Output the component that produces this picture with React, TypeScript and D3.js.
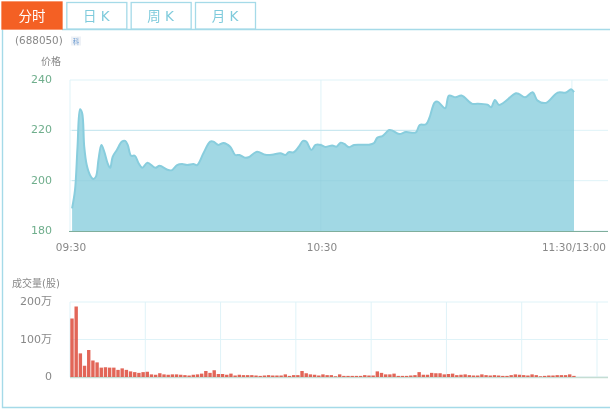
import { useEffect, useRef } from 'react';
import * as d3 from 'd3';

const tabs = ['分时', '日 K', '周 K', '月 K'];
const priceTicks = [180, 200, 220, 240];
const volumeTicks = [0, 100, 200];
const volumeTickLabels = ['0', '100万', '200万'];
const timeLabels = ['09:30', '10:30', '11:30/13:00'];
const priceGridMinutes = [0, 60, 120];
const volumeGridMinutes = [0, 18, 36, 54, 72, 90, 108, 126];

// minutes after 09:30 and the price read at that minute
const priceMinutes = [
  0, 0.7, 1.3, 1.9, 2.4, 2.9, 3.5, 4.3, 5.1, 5.7, 6.3, 7, 7.7, 8.5, 9.1, 9.7, 10.7, 11.9, 12.7, 13.3,
  14.1, 15, 15.9, 16.8, 18, 19.9, 20.9, 23, 23.9, 25.1, 26.3, 27.5, 29, 29.9, 31.4, 33, 33.8, 35, 36.2, 37.8,
  39, 40, 41.4, 42.2, 44.2, 46.2, 47.8, 49.8, 51, 51.8, 53, 54.2, 55.2, 56, 57.2, 58.2, 59.4, 60.6, 62.2, 63.2,
  64.2, 65.1, 66.2, 67.4, 71, 72.2, 73, 74.2, 75.8, 76.6, 78.2, 79.8, 82.2, 83.1, 84.6, 85.4, 86.7, 87.4, 89.2, 90.1,
  91.7, 93.1, 95.7, 96.9, 99.3, 100.2, 101.1, 102.1, 106.1, 106.9, 108.3, 110.1, 111.3, 113.3, 116.1, 118.1, 119.3, 120,
];
const priceValues = [
  189, 196.3, 213.5, 228.4, 226.9, 213.5, 206.2, 202.2, 200.7, 201.6, 208.2, 214.2, 211.5, 206.9, 205.1, 209.5, 212.2, 215.5, 215.8, 214.2,
  209.9, 209.9, 206.9, 205.1, 207.1, 205.1, 205.9, 204.2, 204.2, 206.2, 206.6, 206.2, 206.6, 206.2, 210.9, 215.5, 215.5, 214.2, 215, 213.5,
  210.2, 210.2, 209.1, 209.3, 211.5, 210.3, 210.3, 210.9, 210.2, 211.3, 211.3, 213.5, 215.8, 215.5, 212.2, 214.2, 214.2, 213.4, 214, 213.5,
  215.1, 214.6, 213.3, 214.2, 214.3, 215, 217.1, 217.7, 220.1, 219.9, 218.5, 219.3, 219.2, 222.1, 222.4, 224.8, 231.1, 231.4, 228.8, 233.8,
  233.1, 233.8, 230.5, 230.6, 230.2, 229.2, 232.1, 230.1, 234.7, 234.4, 233.1, 235.1, 231.8, 230.9, 235, 235, 236.3, 235.2,
];
// volume per minute, in 万 shares
const volumes = [
  156, 188, 63, 30, 72, 44, 39, 25, 26, 25, 25, 19, 23, 19, 15, 13, 11, 13, 14, 7,
  6, 10, 7, 6, 7, 7, 6, 5, 4, 6, 7, 9, 16, 11, 18, 8, 8, 6, 9, 4,
  6, 5, 5, 5, 4, 3, 4, 5, 4, 4, 4, 7, 3, 5, 5, 16, 10, 7, 6, 4,
  7, 5, 5, 2, 7, 3, 3, 3, 3, 3, 5, 4, 4, 15, 11, 7, 7, 9, 3, 3,
  3, 4, 5, 13, 6, 6, 11, 10, 10, 7, 8, 9, 5, 6, 7, 5, 4, 4, 7, 5,
  4, 5, 4, 3, 3, 5, 7, 6, 5, 4, 7, 5, 2, 3, 4, 4, 5, 5, 5, 7, 3,
];

const FONT = '"DejaVu Sans", "Noto Sans CJK SC", sans-serif';
const GRID = '#dff3f8';
const TAB_LINE = '#a5dae8';

export default function App() {
  const svgRef = useRef<SVGSVGElement>(null);

  useEffect(() => {
    if (!svgRef.current) return;
    const svg = d3.select(svgRef.current);
    svg.selectAll('*').remove();

    const left = 70;
    const right = 608;
    const slot = d3.scaleLinear().domain([0, 126]).range([left, 597]);
    const x = (m: number) => slot(m + 0.5);
    const yPrice = d3.scaleLinear().domain([180, 240]).range([231, 80]);
    const yVol = d3.scaleLinear().domain([0, 200]).range([377, 302]);

    // frame and tabs
    svg.append('path')
      .attr('d', 'M2.5,29.5V407.5H610M62,29.5H610')
      .attr('fill', 'none').attr('stroke', TAB_LINE).attr('stroke-width', 1.4);
    const tabX = d3.scalePoint<string>().domain(tabs).range([2, 195]);
    tabs.forEach((t, i) => {
      const tx = tabX(t)!;
      svg.append('rect')
        .attr('x', i === 0 ? tx : tx + 0.5).attr('y', i === 0 ? 2 : 2.5)
        .attr('width', 60).attr('height', i === 0 ? 27 : 26.5)
        .attr('fill', i === 0 ? '#f46024' : '#fff')
        .attr('stroke', i === 0 ? '#f46024' : TAB_LINE).attr('stroke-width', 1.3);
      svg.append('text')
        .attr('x', tx + 30).attr('y', 21).attr('text-anchor', 'middle')
        .attr('font-size', 13.5).attr('font-family', FONT)
        .attr('fill', i === 0 ? '#fff' : '#7fcbdc').text(t);
    });

    svg.append('text').attr('x', 15).attr('y', 44).attr('font-size', 10.4).attr('font-family', FONT)
      .attr('fill', '#888').text('(688050)');
    svg.append('rect').attr('x', 71).attr('y', 36.5).attr('width', 10).attr('height', 9).attr('fill', '#eef1f6');
    svg.append('text').attr('x', 76).attr('y', 44).attr('text-anchor', 'middle').attr('font-size', 6.5)
      .attr('font-family', FONT).attr('fill', '#6a9ad0').text('科');

    // price grid
    svg.append('g').selectAll('line').data(priceTicks).join('line')
      .attr('x1', left).attr('x2', right)
      .attr('y1', (d) => yPrice(d)).attr('y2', (d) => yPrice(d))
      .attr('stroke', GRID);
    svg.append('g').selectAll('line').data(priceGridMinutes).join('line')
      .attr('x1', (d) => slot(d)).attr('x2', (d) => slot(d))
      .attr('y1', yPrice(240)).attr('y2', yPrice(180))
      .attr('stroke', GRID);

    // price area
    const rows = priceMinutes.map((m, i) => ({ m, p: priceValues[i] }));
    const area = d3.area<{ m: number; p: number }>()
      .x((d) => x(d.m)).y0(yPrice(180)).y1((d) => yPrice(d.p))
      .curve(d3.curveCatmullRom.alpha(0.5));
    const line = d3.line<{ m: number; p: number }>()
      .x((d) => x(d.m)).y((d) => yPrice(d.p))
      .curve(d3.curveCatmullRom.alpha(0.5));
    svg.append('path').attr('d', area(rows)).attr('fill', '#a1d8e4');
    svg.append('path').attr('d', line(rows)).attr('fill', 'none')
      .attr('stroke', '#88cddd').attr('stroke-width', 2);
    svg.append('g').selectAll('line').data(priceTicks.slice(1, 3)).join('line')
      .attr('x1', x(0)).attr('x2', x(120))
      .attr('y1', (d) => yPrice(d)).attr('y2', (d) => yPrice(d))
      .attr('stroke', '#93cedc').attr('stroke-opacity', 0.4);
    svg.append('line').attr('x1', slot(60)).attr('x2', slot(60))
      .attr('y1', yPrice(215)).attr('y2', yPrice(180))
      .attr('stroke', '#93cedc').attr('stroke-opacity', 0.3);

    // price axis
    svg.append('line').attr('x1', left - 1).attr('x2', right)
      .attr('y1', yPrice(180) + 0.5).attr('y2', yPrice(180) + 0.5)
      .attr('stroke', '#7fae9c');
    svg.append('g').selectAll('text').data(priceTicks).join('text')
      .attr('x', 52).attr('y', (d) => yPrice(d) + 3).attr('text-anchor', 'end')
      .attr('font-size', 11).attr('font-family', FONT).attr('fill', '#6fae8c')
      .text((d) => d);
    svg.append('text').attr('x', 61).attr('y', 65).attr('text-anchor', 'end').attr('font-size', 10)
      .attr('font-family', FONT).attr('fill', '#888').text('价格');

    svg.append('g').selectAll('text').data(timeLabels).join('text')
      .attr('x', (_, i) => (i === 0 ? 71 : i === 1 ? slot(60) + 1 : 606))
      .attr('y', 251)
      .attr('text-anchor', (_, i) => (i === 2 ? 'end' : 'middle'))
      .attr('font-size', 10.5).attr('font-family', FONT).attr('fill', '#888')
      .text((d) => d);

    // volume grid
    svg.append('g').selectAll('line').data(volumeTicks).join('line')
      .attr('x1', left).attr('x2', right)
      .attr('y1', (d) => yVol(d)).attr('y2', (d) => yVol(d))
      .attr('stroke', GRID);
    svg.append('g').selectAll('line').data(volumeGridMinutes).join('line')
      .attr('x1', (d) => slot(d)).attr('x2', (d) => slot(d))
      .attr('y1', yVol(200)).attr('y2', yVol(0))
      .attr('stroke', GRID);

    // volume baseline sits under the bars
    svg.append('line').attr('x1', left).attr('x2', right)
      .attr('y1', yVol(0) + 0.5).attr('y2', yVol(0) + 0.5)
      .attr('stroke', '#c5ddd3').attr('stroke-width', 1.6);
    svg.append('g').selectAll('rect').data(volumes).join('rect')
      .attr('x', (_, i) => slot(i) + 0.3).attr('width', 3.4)
      .attr('y', (d) => yVol(d)).attr('height', (d) => yVol(0) - yVol(d))
      .attr('fill', '#e0594a').attr('fill-opacity', 0.92);

    svg.append('g').selectAll('text').data(volumeTicks).join('text')
      .attr('x', 52).attr('y', (d) => yVol(d) + 3).attr('text-anchor', 'end')
      .attr('font-size', 11).attr('font-family', FONT).attr('fill', '#888')
      .text((_, i) => volumeTickLabels[i]);
    svg.append('text').attr('x', 12).attr('y', 287).attr('font-size', 10)
      .attr('font-family', FONT).attr('fill', '#888').text('成交量(股)');
  }, []);

  return <svg ref={svgRef} width={610} height={411} style={{ position: 'fixed', left: 0, top: 0 }} />;
}
